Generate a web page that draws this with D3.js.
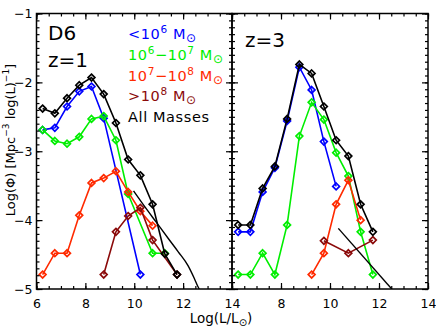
<!DOCTYPE html>
<html><head><meta charset="utf-8">
<script src="https://cdn.jsdelivr.net/npm/d3@7"></script>
<style>body{margin:0;background:#fff}svg{display:block}</style>
</head><body>
<script>
const bins = [6.25,6.75,7.25,7.75,8.25,8.75,9.25,9.75,10.25,10.75,11.25,11.75];
// z=1 panel
const z1Low  = [-2.69,-2.66,-2.35,-2.13,-2.06,-2.52,null,null,-4.79,null,null,null];
const z1Mid  = [-2.69,-2.85,-2.89,-2.79,-2.53,-2.49,-2.84,-3.62,null,-4.48,-4.48,null];
const z1High = [-4.79,-4.48,-4.48,-3.93,-3.46,-3.39,-3.29,-3.59,-3.87,-4.08,null,null];
const z1Top  = [null,null,null,null,null,-4.79,-4.17,-3.94,-3.82,-4.29,null,-4.79];
const z1All  = [-2.38,-2.45,-2.23,-2.04,-1.93,-2.17,-2.59,-3.12,-3.35,-3.77,-4.49,-4.79];
const fitZ1X = [9.97,10.4,10.9,11.4,11.8,12.2,12.45,12.6,12.66];
const fitZ1Y = [-3.575,-3.79,-4.03,-4.27,-4.46,-4.66,-4.84,-4.96,-5.0];
// z=3 panel
const z3Low  = [-4.17,-4.17,-3.59,-3.24,-2.56,-1.78,-2.11,-2.86,-3.51,null,null,null];
const z3Mid  = [-4.79,-4.79,-4.48,-4.79,-4.07,-2.78,-2.29,-2.54,-3.02,-3.36,-4.17,-4.79];
const z3High = [null,null,null,null,null,null,-4.79,-4.48,-3.77,-3.42,-4.0,null];
const z3Top  = [null,null,null,null,null,null,null,-4.30,null,-4.48,null,-4.29];
const z3All  = [-4.07,-4.07,-3.54,-3.22,-2.53,-1.74,-1.87,-2.35,-2.84,-3.07,-3.77,-4.17];
const fitZ3X = [10.34,12.52];
const fitZ3Y = [-4.12,-5.0];

const xTicksLeft = [6,8,10,12,14];
const xTicksRight = [8,10,12,14];
const yTicks = [-1,-2,-3,-4,-5];
const colors = ["#0000ff","#00ee00","#ff2a00","#8b0a0a","#000000"];

const W=436,H=327;
const yTop=13.5,yBottom=289;
const svg=d3.select("body").append("svg").attr("width",W).attr("height",H)
  .style("font-family","'DejaVu Sans', sans-serif");

const y=d3.scaleLinear().domain([-5,-1]).range([yBottom,yTop]);
const panels=[
  {x0:36.5,x1:232,label:"z=1",series:[z1Low,z1Mid,z1High,z1Top,z1All],fit:[fitZ1X,fitZ1Y],ticks:xTicksLeft},
  {x0:232,x1:428,label:"z=3",series:[z3Low,z3Mid,z3High,z3Top,z3All],fit:[fitZ3X,fitZ3Y],ticks:xTicksRight}
];

panels.forEach((p,i)=>{
  const x=d3.scaleLinear().domain([6,14]).range([p.x0,p.x1]);
  const g=svg.append("g");
  const cid="clip"+i;
  svg.append("clipPath").attr("id",cid).append("rect")
    .attr("x",p.x0).attr("y",yTop).attr("width",p.x1-p.x0).attr("height",yBottom-yTop);
  const pg=g.append("g").attr("clip-path",`url(#${cid})`);
  const line=d3.line().x(d=>x(d[0])).y(d=>y(d[1]));
  p.series.forEach((s,k)=>{
    const pts=bins.map((b,j)=>[b,s[j]]).filter(d=>d[1]!==null);
    pg.append("path").attr("d",line(pts)).attr("fill","none")
      .attr("stroke",colors[k]).attr("stroke-width",1.6);
    pg.selectAll(null).data(pts).enter().append("path")
      .attr("d",d=>{const cx=x(d[0]),cy=y(d[1]),r=3.4;return `M${cx},${cy-r}L${cx+r},${cy}L${cx},${cy+r}L${cx-r},${cy}Z`;})
      .attr("fill","none").attr("stroke",colors[k]).attr("stroke-width",1.7);
  });
  const fitPts=p.fit[0].map((v,j)=>[v,p.fit[1][j]]);
  pg.append("path").attr("d",d3.line().x(d=>x(d[0])).y(d=>y(d[1])).curve(d3.curveMonotoneX)(fitPts))
    .attr("fill","none").attr("stroke","#000").attr("stroke-width",1.4);

  const minorX=d3.range(6,14.01,0.5);
  const minorY=d3.range(-5,-0.99,0.1);
  const axB=svg.append("g").attr("transform",`translate(0,${yBottom})`)
    .call(d3.axisBottom(x).tickValues(minorX).tickSize(-3).tickFormat(""));
  const axB2=svg.append("g").attr("transform",`translate(0,${yBottom})`)
    .call(d3.axisBottom(x).tickValues(xTicksLeft).tickSize(-6).tickFormat(""));
  const axT=svg.append("g").attr("transform",`translate(0,${yTop})`)
    .call(d3.axisTop(x).tickValues(minorX).tickSize(-3).tickFormat(""));
  const axT2=svg.append("g").attr("transform",`translate(0,${yTop})`)
    .call(d3.axisTop(x).tickValues(xTicksLeft).tickSize(-6).tickFormat(""));
  const axL=svg.append("g").attr("transform",`translate(${p.x0},0)`)
    .call(d3.axisLeft(y).tickValues(minorY).tickSize(-3).tickFormat(""));
  const axL2=svg.append("g").attr("transform",`translate(${p.x0},0)`)
    .call(d3.axisLeft(y).tickValues(yTicks).tickSize(-6).tickFormat(""));
  const axR=svg.append("g").attr("transform",`translate(${p.x1},0)`)
    .call(d3.axisRight(y).tickValues(minorY).tickSize(-3).tickFormat(""));
  const axR2=svg.append("g").attr("transform",`translate(${p.x1},0)`)
    .call(d3.axisRight(y).tickValues(yTicks).tickSize(-6).tickFormat(""));
  [axB,axB2,axT,axT2,axL,axL2,axR,axR2].forEach(a=>{
    a.select(".domain").remove();
    a.selectAll("line").attr("stroke","#000").attr("stroke-width",1.2);
  });
  const lab=svg.append("g").attr("transform",`translate(0,${yBottom})`)
    .call(d3.axisBottom(x).tickValues(p.ticks).tickSize(0).tickPadding(10).tickFormat(d3.format("d")));
  lab.select(".domain").remove();
  lab.selectAll("text").attr("font-size",12.5).attr("font-family","'DejaVu Sans', sans-serif").attr("fill","#000");
  svg.append("rect").attr("x",p.x0).attr("y",yTop).attr("width",p.x1-p.x0).attr("height",yBottom-yTop)
    .attr("fill","none").attr("stroke","#000").attr("stroke-width",1.5);
  svg.append("text").attr("x",i===0?48:245).attr("y",i===0?67:47).attr("font-size",20)
    .attr("fill","#000").text(p.label);
});

const yl=svg.append("g").attr("transform",`translate(36.5,0)`)
  .call(d3.axisLeft(y).tickValues(yTicks).tickSize(0).tickPadding(4).tickFormat(d=>"\u2212"+Math.abs(d)));
yl.select(".domain").remove();
yl.selectAll("text").attr("font-size",12.5).attr("font-family","'DejaVu Sans', sans-serif").attr("fill","#000");

svg.append("text").attr("x",48).attr("y",40).attr("font-size",20).text("D6");

const legend=[
  {c:colors[0],parts:[["<10",""],["6","sup"],[" M",""],["\u2299","sub"]]},
  {c:colors[1],parts:[["10",""],["6","sup"],["\u2212",""],["10",""],["7","sup"],[" M",""],["\u2299","sub"]]},
  {c:colors[2],parts:[["10",""],["7","sup"],["\u2212",""],["10",""],["8","sup"],[" M",""],["\u2299","sub"]]},
  {c:colors[3],parts:[[">10",""],["8","sup"],[" M",""],["\u2299","sub"]]},
  {c:colors[4],parts:[["All Masses",""]]}
];
legend.forEach((L,i)=>{
  const t=svg.append("text").attr("x",128).attr("y",39+i*20.8).attr("font-size",14.5)
    .attr("letter-spacing",0.6).attr("fill",L.c);
  let shift=0;
  L.parts.forEach(([s,type])=>{
    const target = type==="sup"?-6:type==="sub"?3:0;
    const ts=t.append("tspan").attr("dy",target-shift).text(s);
    shift=target;
    if(type==="sup") ts.attr("font-size",10.5);
    else if(type==="sub") ts.attr("font-size",12);
  });
});

const xt=svg.append("text").attr("x",221).attr("y",323).attr("text-anchor","middle").attr("font-size",13.5);
xt.append("tspan").text("Log(L/L");
xt.append("tspan").attr("font-size",10).attr("dy",3).text("\u2299");
xt.append("tspan").attr("dy",-3).text(")");

const ytl=svg.append("text").attr("transform","translate(15,140) rotate(-90)").attr("text-anchor","middle").attr("font-size",13);
ytl.append("tspan").text("Log(\u03A6)  [Mpc");
ytl.append("tspan").attr("font-size",9).attr("dy",-6).text("\u22123");
ytl.append("tspan").attr("dy",6).text(" log(L)");
ytl.append("tspan").attr("font-size",9).attr("dy",-6).text("\u22121");
ytl.append("tspan").attr("dy",6).text("]");
</script>
</body></html>
